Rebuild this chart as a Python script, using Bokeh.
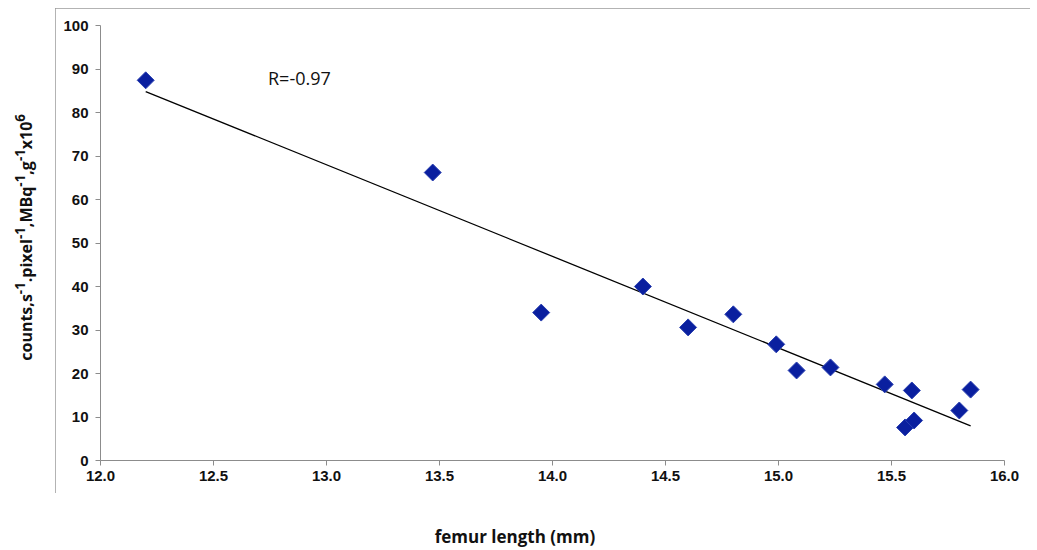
import numpy as np
from bokeh.plotting import figure
from bokeh.models import (Range1d, FixedTicker, NumeralTickFormatter, Label,
                          ColumnDataSource, Div)
from bokeh.layouts import column, row
from bokeh.embed import file_html
from bokeh.resources import INLINE

# ---- data ----
femur_length = [12.20, 13.47, 13.95, 14.40, 14.60, 14.80, 14.99, 15.08,
                15.23, 15.47, 15.59, 15.56, 15.60, 15.80, 15.85]
counts = [87.4, 66.2, 34.0, 40.0, 30.6, 33.6, 26.7, 20.7,
          21.4, 17.5, 16.1, 7.6, 9.2, 11.5, 16.3]
x_ticks = [12.0, 12.5, 13.0, 13.5, 14.0, 14.5, 15.0, 15.5, 16.0]
y_ticks = [0, 10, 20, 30, 40, 50, 60, 70, 80, 90, 100]
r_text = "R=-0.97"
x_title = "femur length (mm)"
y_title_html = ("counts,s<sup>-1</sup>.pixel<sup>-1</sup>,MBq<sup>-1</sup>,"
                "g<sup>-1</sup>x10<sup>6</sup>")

# linear trend line (least squares), spanning the data
slope, intercept = np.polyfit(femur_length, counts, 1)
trend_x = [min(femur_length), max(femur_length)]
trend_y = [slope * v + intercept for v in trend_x]

p = figure(width=975, height=485, output_backend="svg", toolbar_location=None,
           x_range=Range1d(12, 16), y_range=Range1d(0, 100),
           min_border_left=45, min_border_right=26,
           min_border_top=17, min_border_bottom=33,
           margin=(8, 0, 0, 0))
p.styles = {"outline": "1px solid #9a9a9a", "outline-offset": "-1px"}
p.grid.visible = False
p.outline_line_color = None
p.background_fill_color = "white"
p.border_fill_color = "white"

for ax in (p.xaxis[0], p.yaxis[0]):
    ax.axis_line_color = "#8c8c8c"
    ax.major_tick_line_color = "#8c8c8c"
    ax.minor_tick_line_color = None
    ax.major_tick_in = 0
    ax.major_tick_out = 5
    ax.major_label_text_font = "Liberation Sans"
    ax.major_label_text_font_style = "bold"
    ax.major_label_text_font_size = "15px"
    ax.major_label_text_color = "#111111"

p.xaxis.ticker = FixedTicker(ticks=x_ticks)
p.xaxis.formatter = NumeralTickFormatter(format="0.0")
p.xaxis.major_label_standoff = 5
p.yaxis.ticker = FixedTicker(ticks=y_ticks)
p.yaxis.major_label_standoff = 7

p.line(trend_x, trend_y, line_color="black", line_width=1.3)

src = ColumnDataSource(dict(x=femur_length, y=counts))
p.scatter("x", "y", source=src, marker="square", angle=np.pi / 4, size=12,
          fill_color="#0a1f9f", line_color="#2a40b0", line_width=1)

p.add_layout(Label(x=12.88, y=88, text=r_text, text_font="Open Sans",
                   text_font_size="18px", text_align="center",
                   text_baseline="middle", text_color="#111111"))

y_div = Div(width=55, height=493, margin=0, text=(
    '<div style="width:50px;height:474px;display:flex;align-items:center;'
    'justify-content:center;">'
    '<span style="writing-mode:vertical-rl;transform:rotate(180deg);'
    'white-space:nowrap;font-family:\'Open Sans\';font-weight:bold;'
    'font-size:16px;color:#111111;">' + y_title_html + '</span></div>'))

x_div = Div(width=1037, height=57, margin=0, text=(
    '<div style="width:1030px;text-align:center;padding-top:32px;'
    'font-family:\'Open Sans\';font-weight:bold;font-size:17px;'
    'line-height:23px;color:#111111;white-space:nowrap;">' + x_title + '</div>'))

layout = column(row(y_div, p), x_div)

open("out.html", "w").write(file_html(layout, INLINE))
